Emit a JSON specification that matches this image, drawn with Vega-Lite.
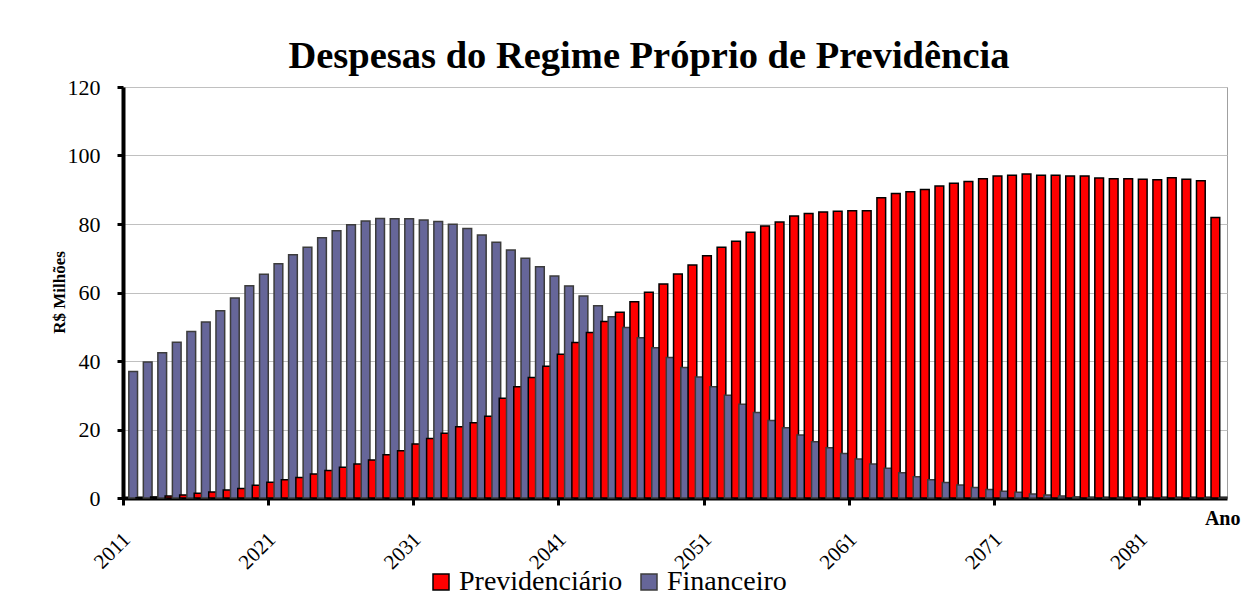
{
  "$schema": "https://vega.github.io/schema/vega-lite/v6.json",
  "width": 1104,
  "height": 411,
  "autosize": {"type": "none"},
  "padding": {"left": 123, "top": 87, "right": 22, "bottom": 102},
  "background": "white",
  "title": {
    "text": "Despesas do Regime Próprio de Previdência",
    "font": "Times New Roman",
    "fontSize": 38.5,
    "fontWeight": "bold",
    "color": "black",
    "anchor": "middle",
    "dx": -26,
    "offset": -30,
    "baseline": "alphabetic"
  },
  "config": {
    "view": {"stroke": "#a0a0a0", "strokeWidth": 1},
    "font": "serif"
  },
  "data": {
    "values": [
      {"ano": 2011, "serie": "Previdenciário", "valor": 0}, {"ano": 2011, "serie": "Financeiro", "valor": 36.9},
      {"ano": 2012, "serie": "Previdenciário", "valor": 0.1}, {"ano": 2012, "serie": "Financeiro", "valor": 39.7},
      {"ano": 2013, "serie": "Previdenciário", "valor": 0.3}, {"ano": 2013, "serie": "Financeiro", "valor": 42.4},
      {"ano": 2014, "serie": "Previdenciário", "valor": 0.6}, {"ano": 2014, "serie": "Financeiro", "valor": 45.5},
      {"ano": 2015, "serie": "Previdenciário", "valor": 0.9}, {"ano": 2015, "serie": "Financeiro", "valor": 48.6},
      {"ano": 2016, "serie": "Previdenciário", "valor": 1.4}, {"ano": 2016, "serie": "Financeiro", "valor": 51.4},
      {"ano": 2017, "serie": "Previdenciário", "valor": 1.75}, {"ano": 2017, "serie": "Financeiro", "valor": 54.7},
      {"ano": 2018, "serie": "Previdenciário", "valor": 2.3}, {"ano": 2018, "serie": "Financeiro", "valor": 58.4},
      {"ano": 2019, "serie": "Previdenciário", "valor": 2.8}, {"ano": 2019, "serie": "Financeiro", "valor": 62.0},
      {"ano": 2020, "serie": "Previdenciário", "valor": 3.7}, {"ano": 2020, "serie": "Financeiro", "valor": 65.3},
      {"ano": 2021, "serie": "Previdenciário", "valor": 4.6}, {"ano": 2021, "serie": "Financeiro", "valor": 68.4},
      {"ano": 2022, "serie": "Previdenciário", "valor": 5.3}, {"ano": 2022, "serie": "Financeiro", "valor": 71.0},
      {"ano": 2023, "serie": "Previdenciário", "valor": 6.0}, {"ano": 2023, "serie": "Financeiro", "valor": 73.2},
      {"ano": 2024, "serie": "Previdenciário", "valor": 7.0}, {"ano": 2024, "serie": "Financeiro", "valor": 76.0},
      {"ano": 2025, "serie": "Previdenciário", "valor": 8.0}, {"ano": 2025, "serie": "Financeiro", "valor": 78.0},
      {"ano": 2026, "serie": "Previdenciário", "valor": 9.0}, {"ano": 2026, "serie": "Financeiro", "valor": 79.8},
      {"ano": 2027, "serie": "Previdenciário", "valor": 9.9}, {"ano": 2027, "serie": "Financeiro", "valor": 80.9},
      {"ano": 2028, "serie": "Previdenciário", "valor": 11.1}, {"ano": 2028, "serie": "Financeiro", "valor": 81.6},
      {"ano": 2029, "serie": "Previdenciário", "valor": 12.6}, {"ano": 2029, "serie": "Financeiro", "valor": 81.5},
      {"ano": 2030, "serie": "Previdenciário", "valor": 13.8}, {"ano": 2030, "serie": "Financeiro", "valor": 81.5},
      {"ano": 2031, "serie": "Previdenciário", "valor": 15.8}, {"ano": 2031, "serie": "Financeiro", "valor": 81.2},
      {"ano": 2032, "serie": "Previdenciário", "valor": 17.4}, {"ano": 2032, "serie": "Financeiro", "valor": 80.7},
      {"ano": 2033, "serie": "Previdenciário", "valor": 18.9}, {"ano": 2033, "serie": "Financeiro", "valor": 79.9},
      {"ano": 2034, "serie": "Previdenciário", "valor": 20.8}, {"ano": 2034, "serie": "Financeiro", "valor": 78.7},
      {"ano": 2035, "serie": "Previdenciário", "valor": 22.0}, {"ano": 2035, "serie": "Financeiro", "valor": 76.8},
      {"ano": 2036, "serie": "Previdenciário", "valor": 23.9}, {"ano": 2036, "serie": "Financeiro", "valor": 74.7},
      {"ano": 2037, "serie": "Previdenciário", "valor": 29.1}, {"ano": 2037, "serie": "Financeiro", "valor": 72.4},
      {"ano": 2038, "serie": "Previdenciário", "valor": 32.5}, {"ano": 2038, "serie": "Financeiro", "valor": 70.0},
      {"ano": 2039, "serie": "Previdenciário", "valor": 35.2}, {"ano": 2039, "serie": "Financeiro", "valor": 67.5},
      {"ano": 2040, "serie": "Previdenciário", "valor": 38.5}, {"ano": 2040, "serie": "Financeiro", "valor": 64.8},
      {"ano": 2041, "serie": "Previdenciário", "valor": 42.0}, {"ano": 2041, "serie": "Financeiro", "valor": 61.9},
      {"ano": 2042, "serie": "Previdenciário", "valor": 45.4}, {"ano": 2042, "serie": "Financeiro", "valor": 59.0},
      {"ano": 2043, "serie": "Previdenciário", "valor": 48.3}, {"ano": 2043, "serie": "Financeiro", "valor": 56.1},
      {"ano": 2044, "serie": "Previdenciário", "valor": 51.5}, {"ano": 2044, "serie": "Financeiro", "valor": 52.9},
      {"ano": 2045, "serie": "Previdenciário", "valor": 54.2}, {"ano": 2045, "serie": "Financeiro", "valor": 49.8},
      {"ano": 2046, "serie": "Previdenciário", "valor": 57.3}, {"ano": 2046, "serie": "Financeiro", "valor": 46.8},
      {"ano": 2047, "serie": "Previdenciário", "valor": 60.1}, {"ano": 2047, "serie": "Financeiro", "valor": 43.9},
      {"ano": 2048, "serie": "Previdenciário", "valor": 62.5}, {"ano": 2048, "serie": "Financeiro", "valor": 41.0},
      {"ano": 2049, "serie": "Previdenciário", "valor": 65.4}, {"ano": 2049, "serie": "Financeiro", "valor": 38.1},
      {"ano": 2050, "serie": "Previdenciário", "valor": 68.0}, {"ano": 2050, "serie": "Financeiro", "valor": 35.3},
      {"ano": 2051, "serie": "Previdenciário", "valor": 70.7}, {"ano": 2051, "serie": "Financeiro", "valor": 32.5},
      {"ano": 2052, "serie": "Previdenciário", "valor": 73.2}, {"ano": 2052, "serie": "Financeiro", "valor": 30.0},
      {"ano": 2053, "serie": "Previdenciário", "valor": 75.0}, {"ano": 2053, "serie": "Financeiro", "valor": 27.4},
      {"ano": 2054, "serie": "Previdenciário", "valor": 77.6}, {"ano": 2054, "serie": "Financeiro", "valor": 25.0},
      {"ano": 2055, "serie": "Previdenciário", "valor": 79.4}, {"ano": 2055, "serie": "Financeiro", "valor": 22.6},
      {"ano": 2056, "serie": "Previdenciário", "valor": 80.6}, {"ano": 2056, "serie": "Financeiro", "valor": 20.5},
      {"ano": 2057, "serie": "Previdenciário", "valor": 82.3}, {"ano": 2057, "serie": "Financeiro", "valor": 18.4},
      {"ano": 2058, "serie": "Previdenciário", "valor": 83.1}, {"ano": 2058, "serie": "Financeiro", "valor": 16.4},
      {"ano": 2059, "serie": "Previdenciário", "valor": 83.5}, {"ano": 2059, "serie": "Financeiro", "valor": 14.7},
      {"ano": 2060, "serie": "Previdenciário", "valor": 83.7}, {"ano": 2060, "serie": "Financeiro", "valor": 13.0},
      {"ano": 2061, "serie": "Previdenciário", "valor": 83.9}, {"ano": 2061, "serie": "Financeiro", "valor": 11.4},
      {"ano": 2062, "serie": "Previdenciário", "valor": 83.9}, {"ano": 2062, "serie": "Financeiro", "valor": 9.9},
      {"ano": 2063, "serie": "Previdenciário", "valor": 87.7}, {"ano": 2063, "serie": "Financeiro", "valor": 8.7},
      {"ano": 2064, "serie": "Previdenciário", "valor": 88.9}, {"ano": 2064, "serie": "Financeiro", "valor": 7.4},
      {"ano": 2065, "serie": "Previdenciário", "valor": 89.4}, {"ano": 2065, "serie": "Financeiro", "valor": 6.2},
      {"ano": 2066, "serie": "Previdenciário", "valor": 90.1}, {"ano": 2066, "serie": "Financeiro", "valor": 5.3},
      {"ano": 2067, "serie": "Previdenciário", "valor": 91.1}, {"ano": 2067, "serie": "Financeiro", "valor": 4.5},
      {"ano": 2068, "serie": "Previdenciário", "valor": 91.9}, {"ano": 2068, "serie": "Financeiro", "valor": 3.8},
      {"ano": 2069, "serie": "Previdenciário", "valor": 92.4}, {"ano": 2069, "serie": "Financeiro", "valor": 3.1},
      {"ano": 2070, "serie": "Previdenciário", "valor": 93.2}, {"ano": 2070, "serie": "Financeiro", "valor": 2.5},
      {"ano": 2071, "serie": "Previdenciário", "valor": 94.0}, {"ano": 2071, "serie": "Financeiro", "valor": 2.0},
      {"ano": 2072, "serie": "Previdenciário", "valor": 94.2}, {"ano": 2072, "serie": "Financeiro", "valor": 1.7},
      {"ano": 2073, "serie": "Previdenciário", "valor": 94.6}, {"ano": 2073, "serie": "Financeiro", "valor": 1.2},
      {"ano": 2074, "serie": "Previdenciário", "valor": 94.2}, {"ano": 2074, "serie": "Financeiro", "valor": 0.9},
      {"ano": 2075, "serie": "Previdenciário", "valor": 94.2}, {"ano": 2075, "serie": "Financeiro", "valor": 0.6},
      {"ano": 2076, "serie": "Previdenciário", "valor": 94.0}, {"ano": 2076, "serie": "Financeiro", "valor": 0.3},
      {"ano": 2077, "serie": "Previdenciário", "valor": 94.0}, {"ano": 2077, "serie": "Financeiro", "valor": 0.1},
      {"ano": 2078, "serie": "Previdenciário", "valor": 93.4}, {"ano": 2078, "serie": "Financeiro", "valor": 0},
      {"ano": 2079, "serie": "Previdenciário", "valor": 93.2}, {"ano": 2079, "serie": "Financeiro", "valor": 0},
      {"ano": 2080, "serie": "Previdenciário", "valor": 93.2}, {"ano": 2080, "serie": "Financeiro", "valor": 0},
      {"ano": 2081, "serie": "Previdenciário", "valor": 93.1}, {"ano": 2081, "serie": "Financeiro", "valor": 0},
      {"ano": 2082, "serie": "Previdenciário", "valor": 92.9}, {"ano": 2082, "serie": "Financeiro", "valor": 0},
      {"ano": 2083, "serie": "Previdenciário", "valor": 93.5}, {"ano": 2083, "serie": "Financeiro", "valor": 0},
      {"ano": 2084, "serie": "Previdenciário", "valor": 93.1}, {"ano": 2084, "serie": "Financeiro", "valor": 0},
      {"ano": 2085, "serie": "Previdenciário", "valor": 92.6}, {"ano": 2085, "serie": "Financeiro", "valor": 0},
      {"ano": 2086, "serie": "Previdenciário", "valor": 81.9}, {"ano": 2086, "serie": "Financeiro", "valor": 0}
    ]
  },
  "mark": {"type": "bar", "strokeWidth": 1.5, "width": {"band": 1.2}},
  "encoding": {
    "x": {
      "field": "ano",
      "type": "ordinal",
      "scale": {"paddingInner": 0, "paddingOuter": 0},
      "axis": {
        "title": "Ano",
        "values": [2011, 2021, 2031, 2041, 2051, 2061, 2071, 2081],
        "bandPosition": 0,
        "labelAngle": -45,
        "labelFont": "serif",
        "labelFontSize": 21,
        "labelFontWeight": "normal",
        "labelColor": "black",
        "labelAlign": "right",
        "labelBaseline": "middle",
        "labelPadding": 31,
        "labelOffset": -3,
        "tickSize": 7,
        "tickWidth": 3,
        "tickColor": "black",
        "domainColor": "black",
        "domainWidth": 4,
        "grid": false,
        "titleFont": "Times New Roman",
        "titleFontWeight": "bold",
        "titleFontSize": 20,
        "titleColor": "black",
        "titleX": 1117,
        "titleY": 26,
        "titleAlign": "right",
        "titleBaseline": "alphabetic"
      }
    },
    "xOffset": {
      "field": "serie",
      "type": "nominal",
      "sort": ["Previdenciário", "Financeiro"],
      "scale": {"paddingInner": 0, "paddingOuter": 0}
    },
    "y": {
      "field": "valor",
      "type": "quantitative",
      "stack": null,
      "scale": {"domain": [0, 120], "nice": false},
      "axis": {
        "title": "R$ Milhões",
        "values": [0, 20, 40, 60, 80, 100, 120],
        "labelFont": "serif",
        "labelFontSize": 22,
        "labelFontWeight": "normal",
        "labelColor": "black",
        "labelPadding": 17,
        "tickSize": 6,
        "tickWidth": 3,
        "tickColor": "black",
        "domainColor": "black",
        "domainWidth": 4,
        "grid": true,
        "gridColor": "#c0c0c0",
        "gridWidth": 1,
        "titleFont": "Times New Roman",
        "titleFontSize": 17,
        "titleFontWeight": "bold",
        "titleColor": "black",
        "titleX": -64,
        "titleY": 205,
        "titleAngle": -90,
        "titleAlign": "center",
        "titleBaseline": "middle"
      }
    },
    "fill": {
      "field": "serie",
      "type": "nominal",
      "scale": {"domain": ["Previdenciário", "Financeiro"], "range": ["#ff0000", "#666699"]},
      "legend": {
        "title": null,
        "orient": "none",
        "legendX": 304,
        "legendY": 481,
        "direction": "horizontal",
        "symbolType": "square",
        "symbolSize": 256,
        "symbolStrokeColor": "black",
        "symbolStrokeWidth": 1.5,
        "labelFont": "serif",
        "labelFontSize": 28,
        "labelFontWeight": "normal",
        "labelColor": "black",
        "labelLimit": 400,
        "labelOffset": 4,
        "columnPadding": 12
      }
    },
    "stroke": {
      "field": "serie",
      "type": "nominal",
      "scale": {"domain": ["Previdenciário", "Financeiro"], "range": ["#000000", "#3c3c3c"]},
      "legend": null
    }
  }
}
